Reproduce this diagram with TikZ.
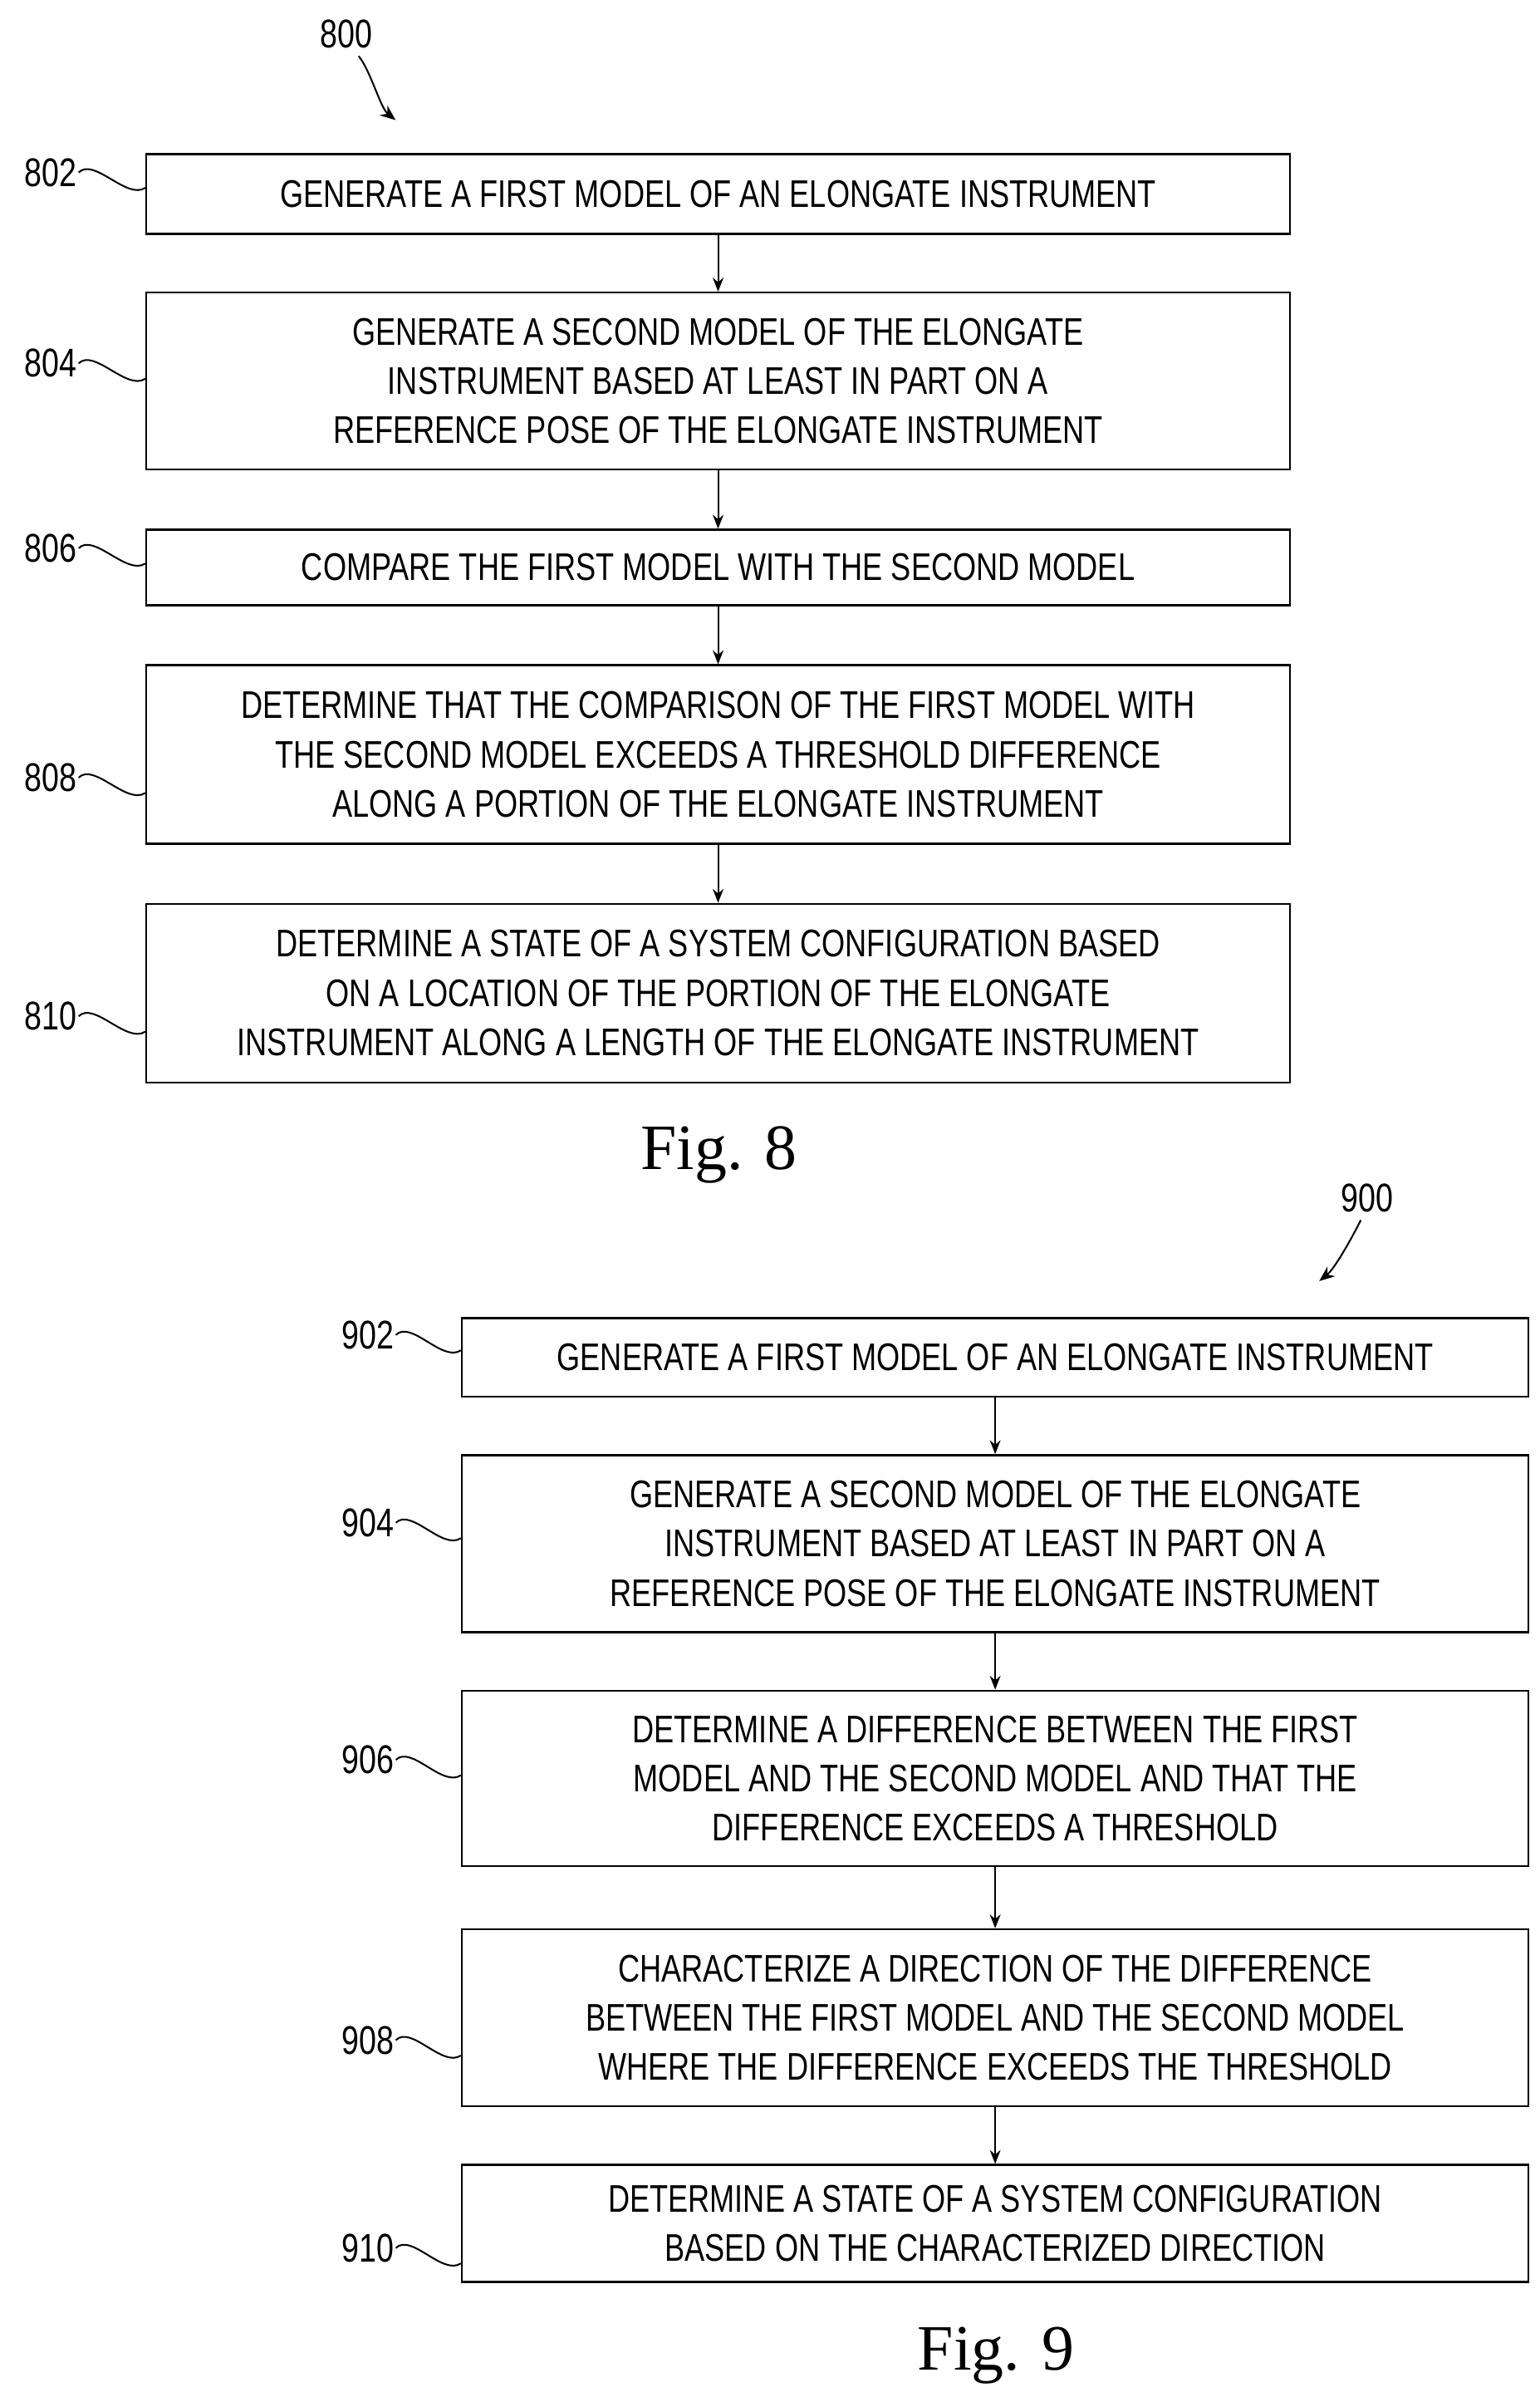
\documentclass[tikz,border=0pt]{standalone}
\usepackage{fontspec}
\setmainfont{Liberation Sans}[FakeStretch=0.78]
\newfontfamily\capfont{Liberation Serif}
\usetikzlibrary{arrows.meta}

\begin{document}
\begin{tikzpicture}[
    x=1pt, y=-1pt,
    stepbox/.style={
        draw, line width=1.3pt, align=center, inner sep=0pt,
        font=\fontsize{25}{32}\selectfont
    },
    ref/.style={font=\fontsize{26}{30}\selectfont, inner sep=1pt},
    lead/.style={line width=1.1pt},
    flow/.style={line width=1.1pt, -{Stealth[length=9pt,width=7pt]}},
    figcap/.style={font=\capfont\fontsize{42}{46}\selectfont}
]
    \useasboundingbox (0,0) rectangle (1000,1560);

    % Fig. 8
    \node[stepbox, minimum width=743pt, minimum height=52pt]  (b802) at (466.5,126)
        {GENERATE A FIRST MODEL OF AN ELONGATE INSTRUMENT};
    \node[stepbox, minimum width=743pt, minimum height=115pt] (b804) at (466.5,247.5)
        {GENERATE A SECOND MODEL OF THE ELONGATE\\INSTRUMENT BASED AT LEAST IN PART ON A\\REFERENCE POSE OF THE ELONGATE INSTRUMENT};
    \node[stepbox, minimum width=743pt, minimum height=49pt]  (b806) at (466.5,368.5)
        {COMPARE THE FIRST MODEL WITH THE SECOND MODEL};
    \node[stepbox, minimum width=743pt, minimum height=116pt] (b808) at (466.5,490)
        {DETERMINE THAT THE COMPARISON OF THE FIRST MODEL WITH\\THE SECOND MODEL EXCEEDS A THRESHOLD DIFFERENCE\\ALONG A PORTION OF THE ELONGATE INSTRUMENT};
    \node[stepbox, minimum width=743pt, minimum height=116pt] (b810) at (466.5,645)
        {DETERMINE A STATE OF A SYSTEM CONFIGURATION BASED\\ON A LOCATION OF THE PORTION OF THE ELONGATE\\INSTRUMENT ALONG A LENGTH OF THE ELONGATE INSTRUMENT};

    \foreach \a/\b in {b802/b804, b804/b806, b806/b808, b808/b810}
        \draw[flow] (\a) -- (\b);

    \foreach \n/\y in {802/112, 804/236, 806/356, 808/505, 810/660} {
        \node[ref] (r\n) at (33,\y) {\n};
        \draw[lead] (r\n.east) .. controls +(10,-10) and +(-12,8) .. (b\n.west |- 0,\y+10);
    }

    \node[ref] (f800) at (225,22) {800};
    \coordinate (a800) at (257,78);
    \draw[lead, -{Stealth[length=10pt,width=8pt]}] (f800.south) ++(8,4)
        .. controls +(8,10) and +(-10,-8) .. (a800);
    \node[figcap] (cap8) at (467,750) {Fig. 8};

    % Fig. 9
    \node[stepbox, minimum width=693pt, minimum height=51pt]  (b902) at (646.5,881.5)
        {GENERATE A FIRST MODEL OF AN ELONGATE INSTRUMENT};
    \node[stepbox, minimum width=693pt, minimum height=115pt] (b904) at (646.5,1002.5)
        {GENERATE A SECOND MODEL OF THE ELONGATE\\INSTRUMENT BASED AT LEAST IN PART ON A\\REFERENCE POSE OF THE ELONGATE INSTRUMENT};
    \node[stepbox, minimum width=693pt, minimum height=114pt] (b906) at (646.5,1155)
        {DETERMINE A DIFFERENCE BETWEEN THE FIRST\\MODEL AND THE SECOND MODEL AND THAT THE\\DIFFERENCE EXCEEDS A THRESHOLD};
    \node[stepbox, minimum width=693pt, minimum height=115pt] (b908) at (646.5,1310.5)
        {CHARACTERIZE A DIRECTION OF THE DIFFERENCE\\BETWEEN THE FIRST MODEL AND THE SECOND MODEL\\WHERE THE DIFFERENCE EXCEEDS THE THRESHOLD};
    \node[stepbox, minimum width=693pt, minimum height=76pt]  (b910) at (646.5,1444)
        {DETERMINE A STATE OF A SYSTEM CONFIGURATION\\BASED ON THE CHARACTERIZED DIRECTION};

    \foreach \a/\b in {b902/b904, b904/b906, b906/b908, b908/b910}
        \draw[flow] (\a) -- (\b);

    \foreach \n/\y in {902/867, 904/989, 906/1143, 908/1325, 910/1460} {
        \node[ref] (r\n) at (239,\y) {\n};
        \draw[lead] (r\n.east) .. controls +(10,-10) and +(-12,8) .. (b\n.west |- 0,\y+10);
    }

    \node[ref] (f900) at (888,778) {900};
    \coordinate (a900) at (857,832);
    \draw[lead, -{Stealth[length=10pt,width=8pt]}] (f900.south) ++(-4,4)
        .. controls +(-6,12) and +(10,-8) .. (a900);
    \node[figcap] (cap9) at (647,1530) {Fig. 9};
\end{tikzpicture}
\end{document}
